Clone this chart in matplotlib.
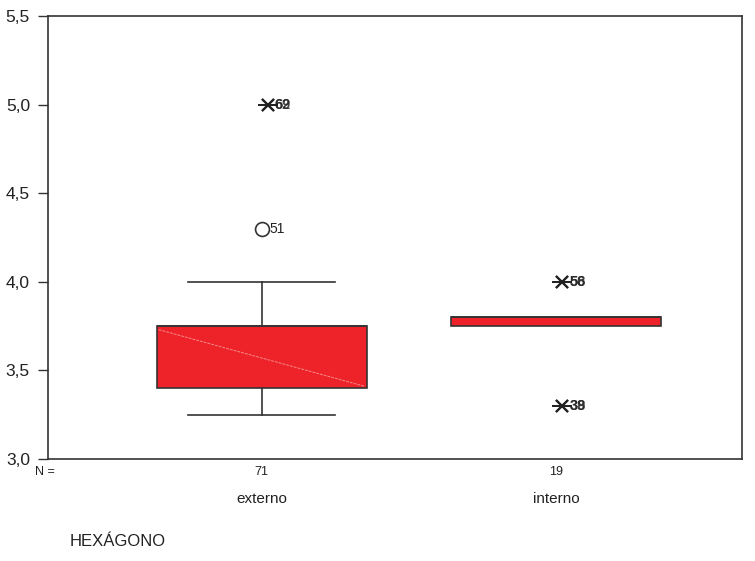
import matplotlib
matplotlib.use("Agg")
from matplotlib import pyplot as plt
from matplotlib.ticker import FuncFormatter

plt.rcParams['font.family'] = ['Liberation Sans', 'DejaVu Sans']

# box statistics (SPSS style boxplot)
groups = ["externo", "interno"]
counts = [71, 19]
q1 = [3.40, 3.75]
q3 = [3.75, 3.80]
medians = [3.75, 3.80]
whisk_lo = [3.25, 3.75]
whisk_hi = [4.00, 3.80]
# outliers (circle) and extremes (star) with case numbers
outlier_vals = [[4.3], []]
outlier_ids = [["51"], []]
extreme_vals = [[5.0, 5.0], [4.0, 4.0, 3.3, 3.3]]
extreme_ids = [["62", "69"], ["58", "56", "39", "38"]]

stats = []
for i in range(len(groups)):
    stats.append({"label": groups[i], "q1": q1[i], "q3": q3[i], "med": medians[i],
                  "whislo": whisk_lo[i], "whishi": whisk_hi[i], "fliers": []})

fig = plt.figure(figsize=(7.55, 5.61), dpi=100)
ax = fig.add_axes([48/755, 1-459/561, 694/755, 443/561])

positions = [1, 2]
bp = ax.bxp(stats, positions=positions, widths=0.714, patch_artist=True,
            showfliers=False, capwidths=[0.5, 0.0])
for b in bp['boxes']:
    b.set_facecolor("#ee2229")
    b.set_edgecolor("#333333")
    b.set_linewidth(1.2)
for m in bp['medians']:
    m.set_color("#333333")
    m.set_linewidth(1.2)
for w in bp['whiskers'] + bp['caps']:
    w.set_color("#333333")
    w.set_linewidth(1.2)

# faint diagonal inside the first box
ax.plot([positions[0] - 0.35, positions[0] + 0.35], [q3[0] - 0.02, q1[0] + 0.01],
        color="#f58a8a", lw=0.7, ls=(0, (3, 1)))

for i, p in enumerate(positions):
    for v, lab in zip(outlier_vals[i], outlier_ids[i]):
        ax.plot(p, v, marker='o', ms=10, mfc='white', mec='#333333', mew=1.2)
        ax.text(p + 0.025, v, lab, fontsize=10, va='center', ha='left', color='#222222')
    for v, lab in zip(extreme_vals[i], extreme_ids[i]):
        ax.plot(p + 0.02, v, marker='x', ms=8, color='#222222', mew=1.5)
        ax.plot(p + 0.02, v, marker='_', ms=14, color='#222222', mew=1.3)
        ax.text(p + 0.045, v, lab, fontsize=10.5, va='center', ha='left',
                color='#222222', fontweight='bold', alpha=0.8)

ax.set_xlim(0.274, 2.632)
ax.set_ylim(3.0, 5.5)
ax.set_yticks([3.0, 3.5, 4.0, 4.5, 5.0, 5.5])
ax.yaxis.set_major_formatter(FuncFormatter(lambda v, pos: ("%.1f" % v).replace(".", ",")))
ax.tick_params(axis='y', labelsize=12.5, length=7, width=1, pad=6,
               color='#333333', labelcolor='#222222')
ax.set_xticks([])
for s in ax.spines.values():
    s.set_color('#333333')
    s.set_linewidth(1.2)

# N row and category names under the axis
for p, n, g in zip(positions, counts, groups):
    ax.text(p, -0.03, str(n), transform=ax.get_xaxis_transform(), ha='center', va='center',
            fontsize=9, color='#222222')
    ax.text(p, -0.09, g, transform=ax.get_xaxis_transform(), ha='center', va='center',
            fontsize=11, color='#222222')
fig.text(45/755, 1-472/561, "N =", ha='center', va='center', fontsize=9, color='#222222')
fig.text(70/755, 1-541/561, "HEXÁGONO", ha='left', va='center', fontsize=12, color='#222222')

fig.savefig("out.png", dpi=100)
